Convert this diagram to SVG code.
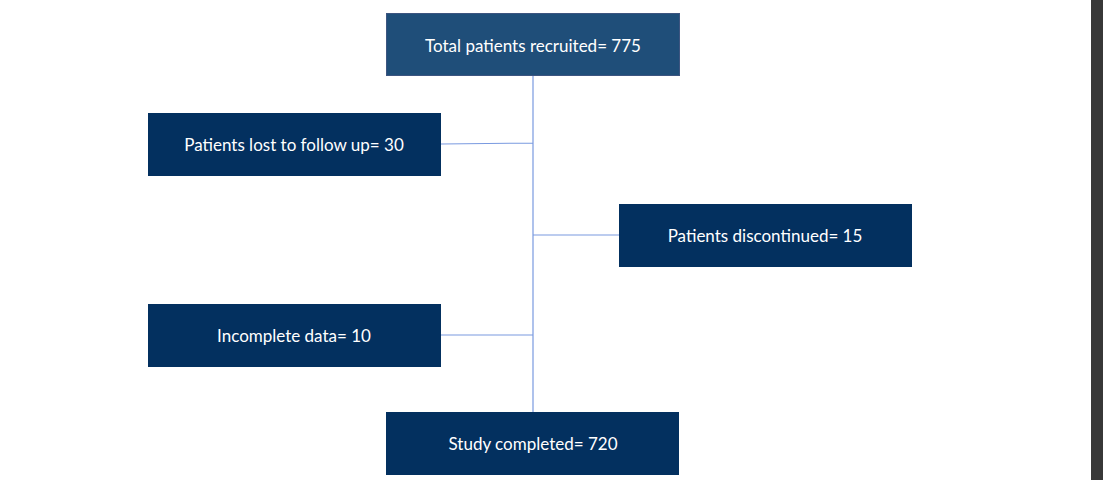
<svg xmlns="http://www.w3.org/2000/svg" width="1103" height="480" viewBox="0 0 1103 480">
<style>
.b{fill:#03305f}
.t{fill:#fff;font-family:"Lato","Liberation Sans",sans-serif;font-size:17px;text-anchor:middle;dominant-baseline:central}
.c{stroke:#7a9ae0;stroke-width:1.2;fill:none}
</style>
<rect width="1103" height="480" fill="#fff"/>
<rect x="1091" y="0" width="12" height="480" fill="#383838"/>
<g id="connectors">
<path class="c" d="M533 75V412M441 144L533 143M533 235H619M441 335H533"/>
</g>
<g id="n1"><rect x="386.5" y="13.5" width="293" height="62" fill="#1f4e79" stroke="#3d5580"/><text class="t" x="533" y="45">Total patients recruited= 775</text></g>
<g id="n2"><rect class="b" x="148" y="113" width="293" height="63"/><text class="t" x="294" y="144">Patients lost to follow up= 30</text></g>
<g id="n3"><rect class="b" x="619" y="204" width="293" height="63"/><text class="t" x="765" y="235">Patients discontinued= 15</text></g>
<g id="n4"><rect class="b" x="148" y="304" width="293" height="63"/><text class="t" x="294" y="335">Incomplete data= 10</text></g>
<g id="n5"><rect class="b" x="386" y="412" width="293" height="63"/><text class="t" x="533" y="443">Study completed= 720</text></g>
</svg>
